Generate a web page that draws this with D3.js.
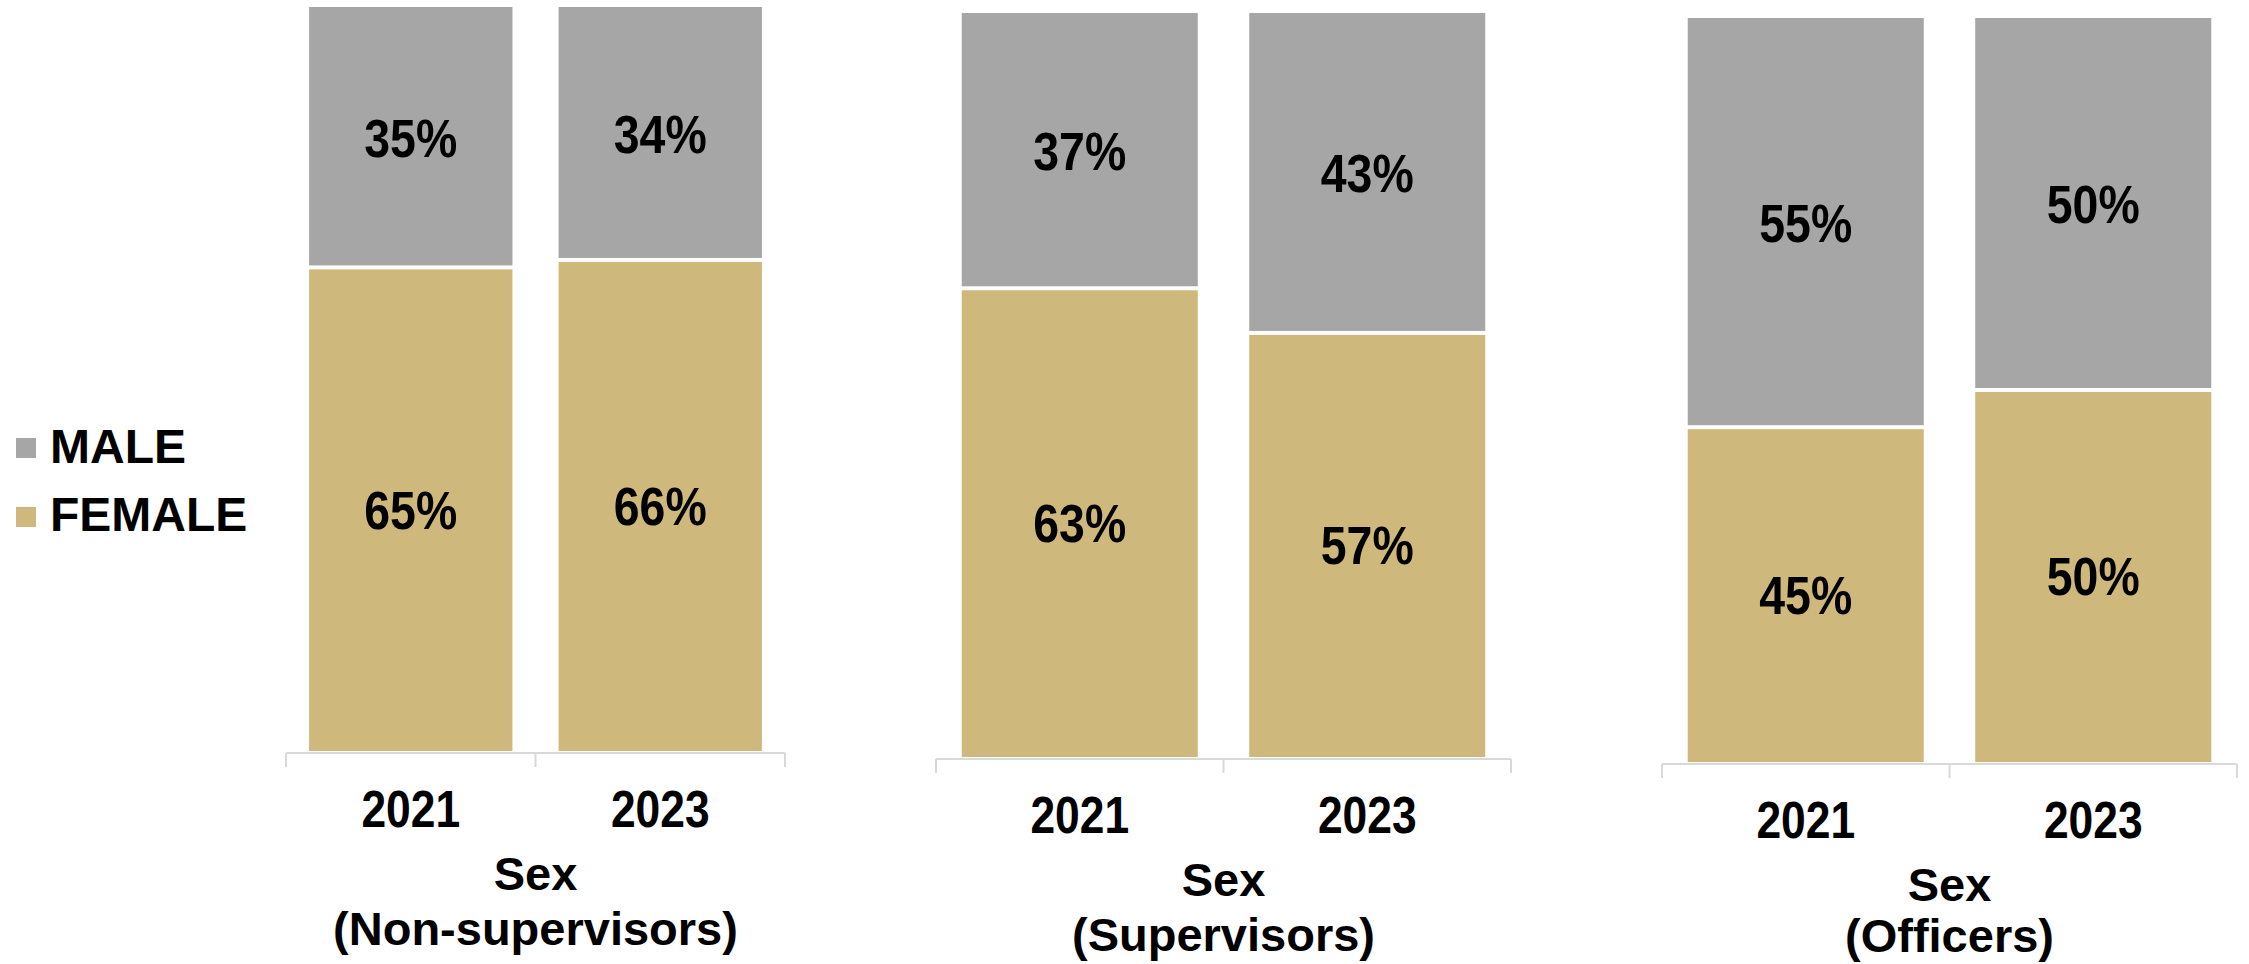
<!DOCTYPE html>
<html>
<head>
<meta charset="utf-8">
<script src="https://cdn.jsdelivr.net/npm/d3@7"></script>
<style>
  html, body { margin: 0; padding: 0; background: #fff; }
  svg { display: block; }
  text { font-family: "Liberation Sans", Arial, Helvetica, sans-serif; font-weight: bold; fill: #000; }
</style>
</head>
<body>
<svg id="chart" width="2249" height="964"></svg>
<script>
// ---- data ----
const years = ["2021", "2023"];
const seriesNames = ["MALE", "FEMALE"];
const axisTitle = "Sex";
const groupNames = ["(Non-supervisors)", "(Supervisors)", "(Officers)"];
const femaleShare = [[65, 66], [63, 57], [45, 50]];
const maleShare   = [[35, 34], [37, 43], [55, 50]];

// ---- styling ----
const colors = { MALE: "#A6A6A6", FEMALE: "#CFB87C" };
const axisColor = "#D9D9D9";
const font = { pct: 54, pctSx: 0.86, yr: 51, yrSx: 0.87, tt: 47 };

// per-panel frame: axis extent, bar top/bottom, axis line position
const panels = [
  { x0: 286,  x1: 785,  top: 7,  bottom: 751, axisY: 753, padIn: 0.185 },
  { x0: 936,  x1: 1511, top: 13, bottom: 757, axisY: 759, padIn: 0.179 },
  { x0: 1662, x1: 2237, top: 18, bottom: 762, axisY: 764, padIn: 0.179 }
];

const svg = d3.select("#chart");

function squeezedText(g, x, y, str, size, sx) {
  g.append("text")
    .attr("transform", `translate(${x},${y}) scale(${sx},1)`)
    .attr("text-anchor", "middle")
    .style("font-size", size + "px")
    .text(str);
}

panels.forEach((p, i) => {
  const g = svg.append("g");
  const x = d3.scaleBand().domain(years).range([p.x0, p.x1])
    .paddingInner(p.padIn).paddingOuter(p.padIn / 2);
  const y = d3.scaleLinear().domain([0, 100]).range([p.bottom, p.top]);
  const gap = 2;

  const rows = years.map((yr, j) => ({ year: yr, female: femaleShare[i][j], male: maleShare[i][j] }));

  // female segment (bottom)
  g.selectAll("rect.female").data(rows).join("rect")
    .attr("class", "female")
    .attr("x", d => x(d.year))
    .attr("width", x.bandwidth())
    .attr("y", d => y(d.female) + gap)
    .attr("height", d => y(0) - y(d.female) - gap)
    .attr("fill", colors.FEMALE);

  // male segment (top)
  g.selectAll("rect.male").data(rows).join("rect")
    .attr("class", "male")
    .attr("x", d => x(d.year))
    .attr("width", x.bandwidth())
    .attr("y", d => y(d.female + d.male))
    .attr("height", d => y(d.female) - y(d.female + d.male) - gap)
    .attr("fill", colors.MALE);

  // value labels centred in each segment
  rows.forEach(d => {
    const cx = x(d.year) + x.bandwidth() / 2;
    const fy = (y(0) + y(d.female)) / 2 + 0.36 * font.pct;
    const my = (y(d.female) + y(d.female + d.male)) / 2 + 0.36 * font.pct;
    squeezedText(g, cx, my, d.male + "%", font.pct, font.pctSx);
    squeezedText(g, cx, fy, d.female + "%", font.pct, font.pctSx);
  });

  // category axis: baseline with ticks at band boundaries
  const [r0, r1] = x.range();
  const step = x.step();
  g.append("line")
    .attr("x1", r0).attr("x2", r1).attr("y1", p.axisY).attr("y2", p.axisY)
    .attr("stroke", axisColor).attr("stroke-width", 2);
  g.selectAll("line.tick").data(d3.range(years.length + 1)).join("line")
    .attr("class", "tick")
    .attr("x1", k => r0 + k * step).attr("x2", k => r0 + k * step)
    .attr("y1", p.axisY).attr("y2", p.axisY + 14)
    .attr("stroke", axisColor).attr("stroke-width", 2);

  years.forEach(yr => {
    squeezedText(g, x(yr) + x.bandwidth() / 2, p.axisY + 74, yr, font.yr, font.yrSx);
  });

  const mid = (r0 + r1) / 2;
  squeezedText(g, mid, p.axisY + 137, axisTitle, font.tt, 1);
  squeezedText(g, mid, Math.min(p.axisY + 192, 952), groupNames[i], font.tt, 1);
});

// legend
const legend = svg.append("g");
const legendRows = [{ name: seriesNames[0], sy: 438, ty: 463 }, { name: seriesNames[1], sy: 507, ty: 531 }];
legend.selectAll("rect").data(legendRows).join("rect")
  .attr("x", 16).attr("y", d => d.sy).attr("width", 20).attr("height", 20)
  .attr("fill", d => colors[d.name]);
legend.selectAll("text").data(legendRows).join("text")
  .attr("x", 50).attr("y", d => d.ty)
  .style("font-size", "48px")
  .text(d => d.name);
</script>
</body>
</html>
